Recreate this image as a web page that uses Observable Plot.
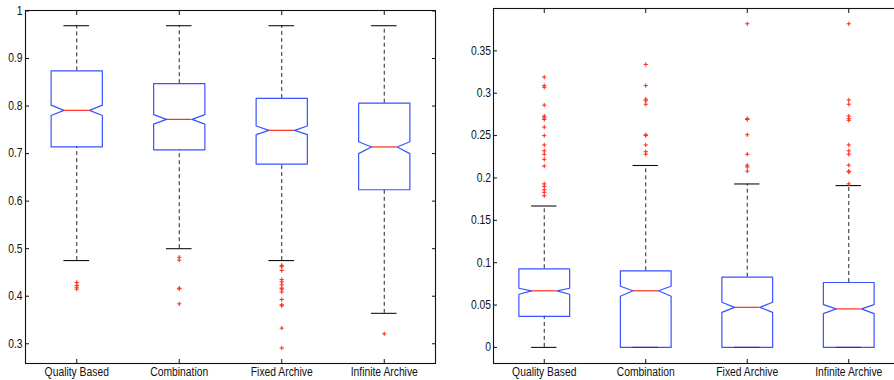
<!DOCTYPE html>
<html><head><meta charset="utf-8">
<script src="https://cdn.jsdelivr.net/npm/d3@7"></script>
<script src="https://cdn.jsdelivr.net/npm/@observablehq/plot@0.6"></script>
<style>
html,body{margin:0;padding:0;background:#fff;}
#wrap{position:relative;width:894px;height:380px;overflow:hidden;background:#fff;}
#wrap svg{position:absolute;top:0;}
</style></head><body><div id="wrap"></div>
<script>
const categories = ["Quality Based", "Combination", "Fixed Archive", "Infinite Archive"];

// Left panel
const leftTicks = [0.3, 0.4, 0.5, 0.6, 0.7, 0.8, 0.9, 1];
const leftTickLabels = ["0.3", "0.4", "0.5", "0.6", "0.7", "0.8", "0.9", "1"];
const leftQ1 = [0.714, 0.708, 0.678, 0.624];
const leftMedian = [0.791, 0.772, 0.749, 0.714];
const leftQ3 = [0.874, 0.847, 0.816, 0.806];
const leftNotchLo = [0.780, 0.762, 0.740, 0.700];
const leftNotchHi = [0.802, 0.782, 0.758, 0.725];
const leftWhiskerLo = [0.475, 0.500, 0.475, 0.364];
const leftWhiskerHi = [0.969, 0.969, 0.969, 0.969];
const leftOutliers = [
  [0.429, 0.423, 0.419, 0.415],
  [0.482, 0.476, 0.417, 0.4155, 0.384],
  [0.465, 0.462, 0.454, 0.435, 0.430, 0.424, 0.417, 0.415, 0.409, 0.393, 0.382, 0.380, 0.333, 0.291],
  [0.321]
];

// Right panel
const rightTicks = [0, 0.05, 0.1, 0.15, 0.2, 0.25, 0.3, 0.35];
const rightTickLabels = ["0", "0.05", "0.1", "0.15", "0.2", "0.25", "0.3", "0.35"];
const rightQ1 = [0.0367, 0, 0, 0];
const rightMedian = [0.0668, 0.0668, 0.0473, 0.0454];
const rightQ3 = [0.0928, 0.0904, 0.0829, 0.0766];
const rightNotchLo = [0.0627, 0.0604, 0.0414, 0.0399];
const rightNotchHi = [0.0698, 0.0722, 0.0533, 0.0505];
const rightWhiskerLo = [0, 0, 0, 0];
const rightWhiskerHi = [0.1669, 0.2147, 0.1929, 0.1910];
const rightOutliers = [
  [0.319, 0.309, 0.307, 0.286, 0.273, 0.271, 0.269, 0.260, 0.250, 0.239, 0.232, 0.228, 0.222, 0.214, 0.193, 0.190, 0.186, 0.183, 0.179],
  [0.334, 0.309, 0.293, 0.291, 0.287, 0.251, 0.250, 0.239, 0.231, 0.228],
  [0.382, 0.270, 0.269, 0.251, 0.228, 0.215, 0.213, 0.208],
  [0.382, 0.292, 0.287, 0.273, 0.270, 0.268, 0.239, 0.232, 0.228, 0.215, 0.208, 0.207, 0.193]
];

const BLUE = "#1535ff", RED = "#ff2a1a", INK = "#111";
const FONT = "'Liberation Sans', Arial, sans-serif";

function panel(s) {
  const pos = categories.map((c, i) => i + 1);
  const stats = pos.map((x, i) => ({x, q1: s.q1[i], med: s.median[i], q3: s.q3[i], nlo: s.notchLo[i], nhi: s.notchHi[i], wlo: s.whiskerLo[i], whi: s.whiskerHi[i]}));
  const W = 0.25, N = 0.125;
  const poly = stats.flatMap(d => [
    [d.x - W, d.q1], [d.x - W, d.nlo], [d.x - N, d.med], [d.x - W, d.nhi], [d.x - W, d.q3],
    [d.x + W, d.q3], [d.x + W, d.nhi], [d.x + N, d.med], [d.x + W, d.nlo], [d.x + W, d.q1], [d.x - W, d.q1]
  ].map(([px, py]) => ({box: d.x, px, py})));
  const outs = s.outliers.flatMap((arr, i) => arr.map(v => ({x: i + 1, v})));
  const fmtX = d => categories[d - 1];
  const fmtY = d => s.tickLabels[s.ticks.findIndex(t => Math.abs(t - d) < 1e-9)];
  const blank = () => "";
  return Plot.plot({
    width: s.width, height: 380,
    marginLeft: s.marginLeft, marginRight: s.marginRight, marginTop: s.marginTop, marginBottom: s.marginBottom,
    style: {fontFamily: FONT, fontSize: "12px", color: "#111", background: "white"},
    x: {type: "linear", domain: [0.5, 4.5], axis: null},
    y: {domain: s.domain, axis: null},
    marks: [
      Plot.ruleX(stats, {x: "x", y1: "q3", y2: "whi", stroke: INK, strokeWidth: 0.9, strokeDasharray: "4,3"}),
      Plot.ruleX(stats.filter(d => d.wlo < d.q1), {x: "x", y1: "wlo", y2: "q1", stroke: INK, strokeWidth: 0.9, strokeDasharray: "4,3"}),
      Plot.ruleY(stats, {y: "whi", x1: d => d.x - N, x2: d => d.x + N, stroke: INK, strokeWidth: 1.1}),
      Plot.ruleY(stats, {y: "wlo", x1: d => d.x - N, x2: d => d.x + N, stroke: INK, strokeWidth: 1.1}),
      Plot.line(poly, {x: "px", y: "py", z: "box", stroke: BLUE, strokeWidth: 1.2, strokeOpacity: 0.85}),
      Plot.ruleY(stats, {y: "med", x1: d => d.x - N, x2: d => d.x + N, stroke: RED, strokeWidth: 1.2}),
      Plot.dot(outs, {x: "x", y: "v", symbol: "plus", r: 1.5, stroke: RED, strokeWidth: 1}),
      Plot.frame({stroke: INK, strokeWidth: 1.1}),
      Plot.axisY({ticks: s.ticks, tickFormat: fmtY, tickSize: 0, tickPadding: s.yPad, label: null, fill: "#111"}),
      Plot.axisY({ticks: s.ticks, anchor: "left", tickSize: -4, tickFormat: blank, label: null, stroke: INK}),
      Plot.axisY({ticks: s.ticks, anchor: "right", tickSize: -4, tickFormat: blank, label: null, stroke: INK}),
      Plot.axisX({ticks: pos, tickFormat: fmtX, tickSize: 0, tickPadding: 4, label: null, fill: "#111"}),
      Plot.axisX({ticks: pos, anchor: "bottom", tickSize: -4, tickFormat: blank, label: null, stroke: INK}),
      Plot.axisX({ticks: pos, anchor: "top", tickSize: -4, tickFormat: blank, label: null, stroke: INK})
    ]
  });
}

// Condense text to mimic a narrow Helvetica face
function condense(svg, factor) {
  svg.querySelectorAll("text").forEach(t => {
    if (!t.textContent) return;
    const w = t.getComputedTextLength();
    if (w > 0) {
      t.setAttribute("textLength", (w * factor).toFixed(2));
      t.setAttribute("lengthAdjust", "spacingAndGlyphs");
    }
  });
}

const wrap = document.getElementById("wrap");
const left = panel({
  q1: leftQ1, median: leftMedian, q3: leftQ3, notchLo: leftNotchLo, notchHi: leftNotchHi,
  whiskerLo: leftWhiskerLo, whiskerHi: leftWhiskerHi, outliers: leftOutliers,
  ticks: leftTicks, tickLabels: leftTickLabels, domain: [0.2585, 1.001],
  width: 447, marginLeft: 25, marginRight: 12, marginTop: 10, marginBottom: 17, yPad: 3
});
left.style.left = "0px";
wrap.appendChild(left);
const right = panel({
  q1: rightQ1, median: rightMedian, q3: rightQ3, notchLo: rightNotchLo, notchHi: rightNotchHi,
  whiskerLo: rightWhiskerLo, whiskerHi: rightWhiskerHi, outliers: rightOutliers,
  ticks: rightTicks, tickLabels: rightTickLabels, domain: [-0.019, 0.4],
  width: 460, marginLeft: 46, marginRight: 8, marginTop: 8, marginBottom: 17, yPad: 2.5
});
right.style.left = "447px";
wrap.appendChild(right);
condense(left, 0.86);
condense(right, 0.86);
</script>
</body></html>
